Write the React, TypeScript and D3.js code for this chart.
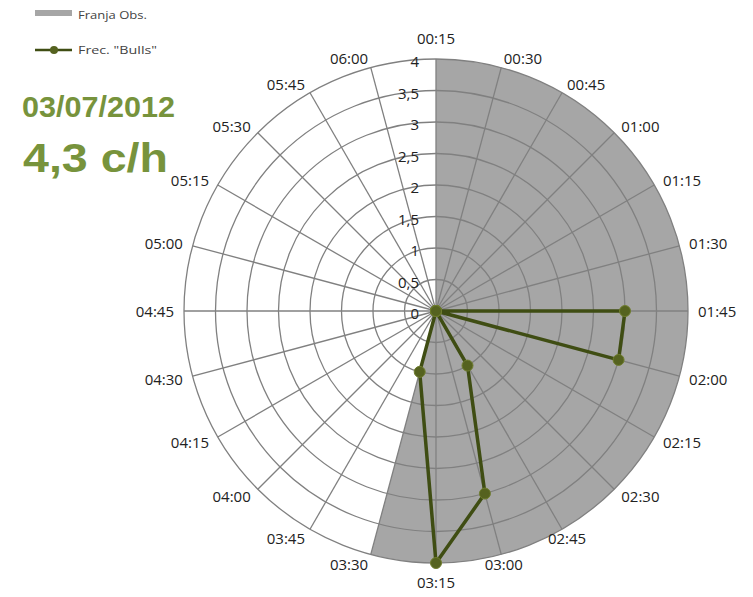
import React from "react";
import * as d3 from "d3";

const categories = ["00:15","00:30","00:45","01:00","01:15","01:30","01:45","02:00","02:15","02:30","02:45","03:00","03:15","03:30","03:45","04:00","04:15","04:30","04:45","05:00","05:15","05:30","05:45","06:00"];
const franjaObs = [4,4,4,4,4,4,4,4,4,4,4,4,4,4,0,0,0,0,0,0,0,0,0,0];
const bulls = [0,0,0,0,0,0,3,3,0,0,1,3,4,1,0,0,0,0,0,0,0,0,0,0];
const ringTicks = [0,0.5,1,1.5,2,2.5,3,3.5,4];
const ringLabels = ["0","0,5","1","1,5","2","2,5","3","3,5","4"];
const legendLabels = ["Franja Obs.", "Frec. \"Bulls\""];
const dateLabel = "03/07/2012";
const rateLabel = "4,3 c/h";

export default function App() {
  const W = 753, H = 597;
  const cx = 436, cy = 311, R = 252;
  const n = categories.length;
  const r = d3.scaleLinear().domain([0, 4]).range([0, R]);
  const ang = (i: number) => (i / n) * 2 * Math.PI;
  const pt = (i: number, v: number): [number, number] => [cx + r(v) * Math.sin(ang(i)), cy - r(v) * Math.cos(ang(i))];
  const lineGen = d3.line<[number, number]>().x(d => d[0]).y(d => d[1]);
  const closed = (vals: number[]) => lineGen(vals.map((v, i) => pt(i, v)))! + "Z";
  // area path with circular arcs between consecutive equal values
  const arcArea = (vals: number[]) => {
    const p = d3.path();
    const [x0, y0] = pt(0, vals[0]);
    p.moveTo(x0, y0);
    for (let k = 1; k <= n; k++) {
      const i = k % n;
      const prev = vals[(k - 1) % n];
      const v = vals[i];
      if (v === prev && v > 0) {
        const a0 = ang(k - 1) - Math.PI / 2;
        const a1 = ang(k) - Math.PI / 2;
        p.arc(cx, cy, r(v), a0, a1, false);
      } else {
        const [x, y] = pt(i, v);
        p.lineTo(x, y);
      }
    }
    p.closePath();
    return p.toString();
  };
  const font = "'Open Sans', 'DejaVu Sans', sans-serif";
  const green = "#77933c";
  const lineColor = "#3f4d13";
  const dotFill = "#55621f";
  const gridColor = "#808080";
  const fillGrey = "#a6a6a6";

  return (
    <svg width={W} height={H} style={{ position: "absolute", left: 0, top: 0 }}>
      <rect width={W} height={H} fill="#fff" />
      <path d={arcArea(franjaObs)} fill={fillGrey} stroke="none" />
      {ringTicks.slice(1).map((t, k) => (
        <circle key={k} cx={cx} cy={cy} r={r(t)} fill="none" stroke={gridColor} strokeWidth={1.3} />
      ))}
      {categories.map((c, i) => {
        const [x, y] = pt(i, 4);
        return <line key={c} x1={cx} y1={cy} x2={x} y2={y} stroke={gridColor} strokeWidth={1.3} />;
      })}
      {ringTicks.map((t, k) => (
        <text key={k} x={cx - 17} y={cy - r(t) + 2} textAnchor="end" dominantBaseline="central" fontFamily={font} fontSize={15} fill="#222">{ringLabels[k]}</text>
      ))}
      {categories.map((c, i) => {
        const a = ang(i);
        const s = Math.sin(a), co = Math.cos(a);
        let anchor: "start" | "middle" | "end" = "middle";
        if (Math.abs(s) > 0.1) {
          if (s > 0) anchor = co < -0.8 ? "middle" : "start";
          else anchor = "end";
        }
        const gx = 10;
        const gy = Math.abs(s) < 0.1 ? (co > 0 ? 21 : 19) : 10;
        const x = cx + (R + gx) * s;
        const y = cy - (R + gy) * co;
        return (
          <text key={c} x={x} y={y} textAnchor={anchor} dominantBaseline="central" fontFamily={font} fontSize={15} fill="#222">{c}</text>
        );
      })}
      <path d={closed(bulls)} fill="none" stroke={lineColor} strokeWidth={3.5} strokeLinejoin="round" />
      {bulls.map((v, i) => {
        const [x, y] = pt(i, v);
        return <circle key={i} cx={x} cy={y} r={5.5} fill={dotFill} stroke="#6f7d2e" strokeWidth={1} />;
      })}
      {/* legend */}
      <rect x={35} y={10} width={37} height={6} fill={fillGrey} />
      <text x={78} y={14} dominantBaseline="central" fontFamily={font} fontSize={11} fill="#444" textLength={69} lengthAdjust="spacingAndGlyphs">{legendLabels[0]}</text>
      <line x1={35} y1={50} x2={72} y2={50} stroke={lineColor} strokeWidth={2.5} />
      <circle cx={54} cy={50} r={4} fill={dotFill} />
      <text x={78} y={49} dominantBaseline="central" fontFamily={font} fontSize={11} fill="#444" textLength={79} lengthAdjust="spacingAndGlyphs">{legendLabels[1]}</text>
      {/* titles */}
      <text x={22} y={117} fontFamily="'Liberation Sans', Arial, sans-serif" fontWeight="bold" fontSize={30} fill={green} textLength={153} lengthAdjust="spacingAndGlyphs">{dateLabel}</text>
      <text x={23} y={172} fontFamily="'Liberation Sans', Arial, sans-serif" fontWeight="bold" fontSize={41} fill={green} textLength={145} lengthAdjust="spacingAndGlyphs">{rateLabel}</text>
    </svg>
  );
}
